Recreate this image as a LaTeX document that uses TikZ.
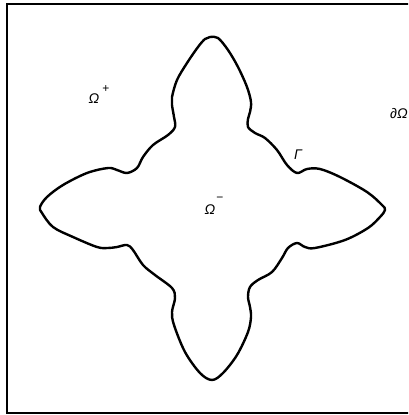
\documentclass[tikz,border=0pt]{standalone}
\usepackage{fontspec}
\setmainfont{Liberation Sans}
\begin{document}
\begin{tikzpicture}[x=1pt,y=-1pt,
  lbl/.style={font=\itshape\fontsize{14}{16}\selectfont, inner sep=0pt},
  sup/.style={font=\fontsize{12}{14}\selectfont, inner sep=0pt},
  curve/.style={line width=2.4pt, line join=round},
  frame/.style={line width=1.5pt}]
\useasboundingbox (0,0) rectangle (408,415);
\fill[white] (0,0) rectangle (408,415);
\begin{scope}
\clip (0,0) rectangle (408,415);
\draw[frame] (7,4) rectangle (420,413);
\node[lbl, anchor=west] (bd) at (390,114) {∂Ω};
\end{scope}
\draw[curve] plot[smooth cycle, tension=0.55] coordinates {
(210,37)(218,38)(228,50)(238,67)(247,87)(251,102)(250,112)(248,119)(248,127)(255,133)(265,138)(277,150)(287,165)(297,173)(307,169)(320,169)(340,177)(367,192)(382,205)(385,210)(380,217)(368,228)(345,240)(315,248)(305,247)(297,243)(288,248)(282,258)(272,272)(258,280)(250,287)(248,297)(250,307)(251,317)(248,332)(237,355)(223,373)(212,380)(200,373)(185,352)(174,325)(172,312)(175,298)(172,288)(155,275)(143,265)(133,250)(127,245)(117,247)(108,248)(97,247)(73,237)(53,227)(42,213)(40,207)(47,197)(63,185)(87,173)(108,168)(117,170)(127,173)(137,168)(143,157)(153,145)(168,135)(175,127)(174,117)(172,105)(172,97)(177,80)(187,63)(198,47)(205,39)};
\node[lbl] (op) at (94,99) {Ω};
\node[sup] (opp) at (106,89) {+};
\node[lbl] (om) at (210,210) {Ω};
\node[sup] (omm) at (220,199) {−};
\node[lbl] (ga) at (298,155) {Γ};
\end{tikzpicture}
\end{document}
